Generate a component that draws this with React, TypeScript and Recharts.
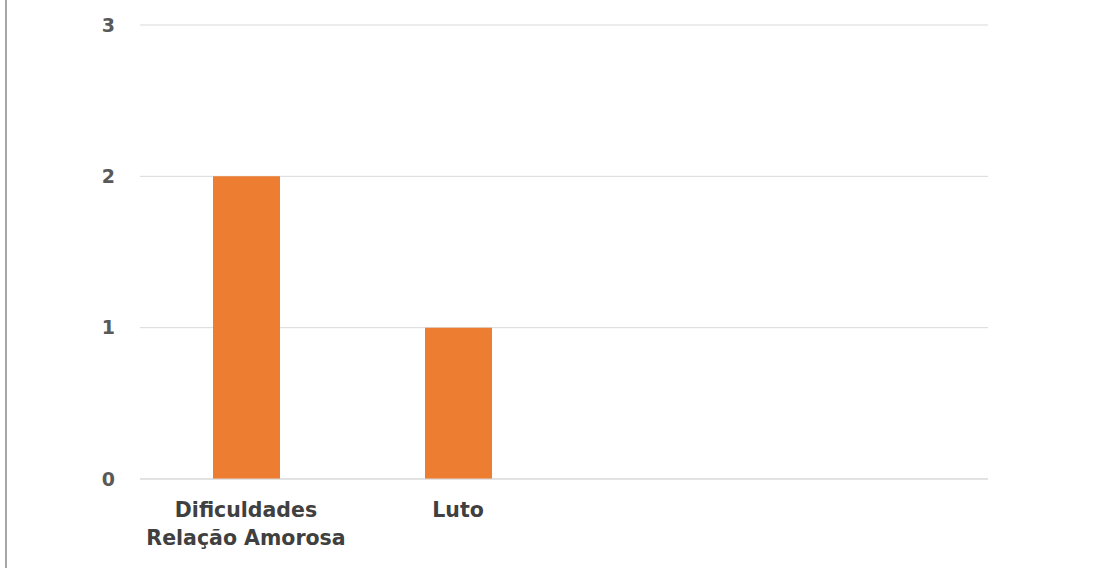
import React from "react";
import { BarChart, Bar, XAxis, YAxis, CartesianGrid } from "recharts";

const categories = ["Dificuldades Relação Amorosa", "Luto", "", " "];
const tickLines = [["Dificuldades", "Relação Amorosa"], ["Luto"], [], []];
const counts = [2, 1, null, null];
const yTicks = [0, 1, 2, 3];

const data = categories.map((name, i) => ({ name, value: counts[i] }));

const FONT = "'DejaVu Sans', sans-serif";

function CategoryTick(props: any) {
  const { x, y, index } = props;
  const lines = tickLines[index] || [];
  return (
    <text
      x={x}
      y={y}
      textAnchor="middle"
      fill="#404040"
      fontFamily={FONT}
      fontWeight="bold"
      fontSize={20.5}
    >
      {lines.map((l, i) => (
        <tspan key={i} x={x} y={y + 36 + i * 28}>
          {l}
        </tspan>
      ))}
    </text>
  );
}

export default function App() {
  return (
    <div
      style={{
        position: "absolute",
        left: 0,
        top: 0,
        width: 1115,
        height: 568,
        background: "#fff",
      }}
    >
      <div
        style={{
          position: "absolute",
          left: 5,
          top: 0,
          width: 2,
          height: 568,
          background: "#a6a6a6",
        }}
      />
      <BarChart
        width={1115}
        height={568}
        data={data}
        margin={{ top: 25, right: 127, bottom: 0, left: 0 }}
      >
        <CartesianGrid vertical={false} stroke="#d9d9d9" />
        <XAxis
          dataKey="name"
          axisLine={{ stroke: "#d9d9d9" }}
          tickLine={false}
          tickSize={0}
          tick={<CategoryTick />}
          interval={0}
          height={89}
        />
        <YAxis
          width={140}
          domain={[0, 3]}
          ticks={yTicks}
          axisLine={false}
          tickLine={false}
          tickSize={0}
          tickMargin={25}
          tick={{
            fill: "#595959",
            fontFamily: FONT,
            fontWeight: "bold",
            fontSize: 19,
          }}
        />
        <Bar
          dataKey="value"
          fill="#ED7D31"
          barSize={67}
          isAnimationActive={false}
        />
      </BarChart>
    </div>
  );
}
